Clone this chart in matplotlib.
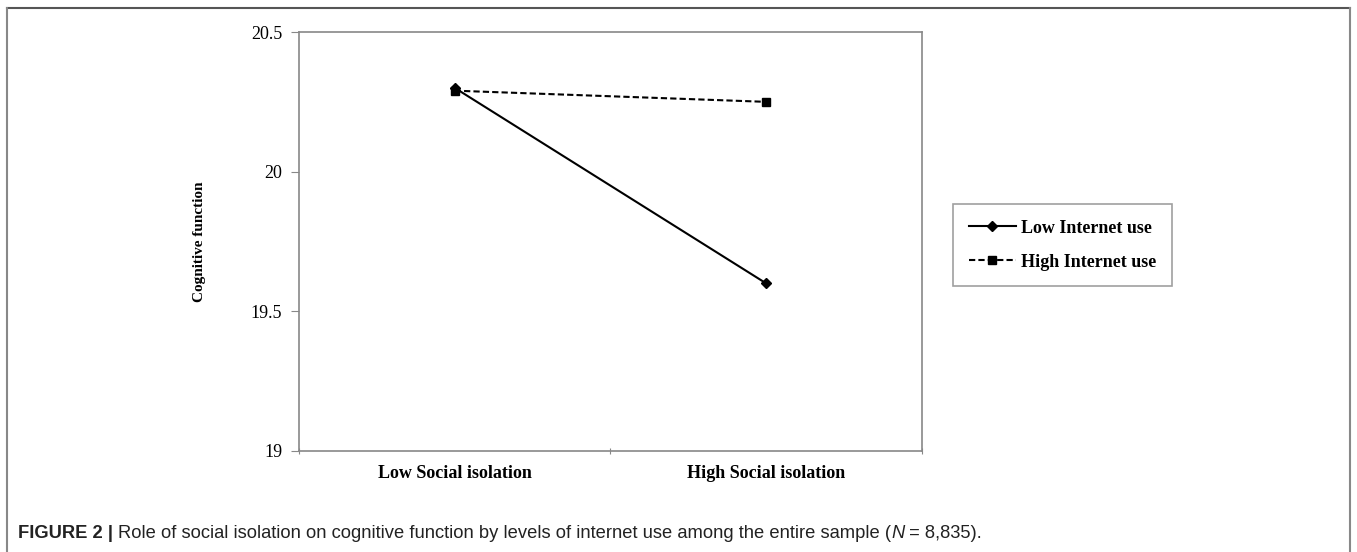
import matplotlib
matplotlib.use("Agg")
import matplotlib.pyplot as plt
from matplotlib.lines import Line2D

# datos
categorias = ["Low Social isolation", "High Social isolation"]
low_internet = [20.30, 19.60]
high_internet = [20.29, 20.25]
yticks = [19, 19.5, 20, 20.5]
yticklabels = ["19", "19.5", "20", "20.5"]

serif = ["Liberation Serif", "DejaVu Serif"]
sans = ["Liberation Sans", "DejaVu Sans"]
gris = "#888888"

fig = plt.figure(figsize=(13.57, 5.52), dpi=100)
ax = fig.add_axes([0.2203, 0.183, 0.4591, 0.759])

x = [0.5, 1.5]
l1, = ax.plot(x, low_internet, color="black", lw=1.5, marker="D", ms=5,
              label="Low Internet use")
l2, = ax.plot(x, high_internet, color="black", lw=1.5, ls=(0, (3, 1.5)),
              marker="s", ms=6, label="High Internet use")

ax.set_xlim(0, 2)
ax.set_ylim(19, 20.5)
ax.set_yticks(yticks)
ax.set_yticklabels(yticklabels, fontfamily=serif, fontsize=13)
ax.set_xticks([0, 1, 2])
ax.set_xticklabels([])
ax.set_xticks(x, minor=True)
ax.set_xticklabels(categorias, minor=True, fontfamily=serif, fontsize=13,
                   fontweight="bold")
ax.tick_params(axis="x", which="minor", length=0, pad=10)
ax.tick_params(axis="x", which="major", length=4, color=gris, direction="inout")
ax.tick_params(axis="y", length=6, color=gris, pad=6)
for s in ax.spines.values():
    s.set_color(gris)
    s.set_linewidth(1.2)

ax.set_ylabel("Cognitive function", fontfamily=serif, fontsize=11,
              fontweight="bold", labelpad=32)

leg = ax.legend(loc="center left", bbox_to_anchor=(0.7025, 0.556),
                bbox_transform=fig.transFigure, frameon=True, fancybox=False,
                edgecolor=gris, handlelength=2.6, handletextpad=0.3,
                labelspacing=0.95, borderpad=0.85, borderaxespad=0,
                prop={"family": serif, "weight": "bold", "size": 13})
leg.get_frame().set_linewidth(1.2)

# marco exterior de la figura
fig.add_artist(Line2D([7/1357, 1350/1357], [1-8/552, 1-8/552], color="#555555", lw=1.5))
fig.add_artist(Line2D([7/1357, 7/1357], [0, 1-8/552], color=gris, lw=1.5))
fig.add_artist(Line2D([1350/1357, 1350/1357], [0, 1-8/552], color=gris, lw=1.5))

# pie de figura
piezas = [("FIGURE 2 | ", "bold", "normal"),
          ("Role of social isolation on cognitive function by levels of internet use among the entire sample (", "normal", "normal"),
          ("N", "normal", "italic"),
          (" = 8,835).", "normal", "normal")]
fig.canvas.draw()
r = fig.canvas.get_renderer()
xpos = 18 / 1357
for txt, w, st in piezas:
    t = fig.text(xpos, 1 - 533/552, txt, fontfamily=sans, fontsize=13.2,
                 fontweight=w, fontstyle=st, va="center", ha="left",
                 color="#222222")
    bb = t.get_window_extent(renderer=r)
    xpos += bb.width / (1357)

fig.savefig("out.png", dpi=100)
